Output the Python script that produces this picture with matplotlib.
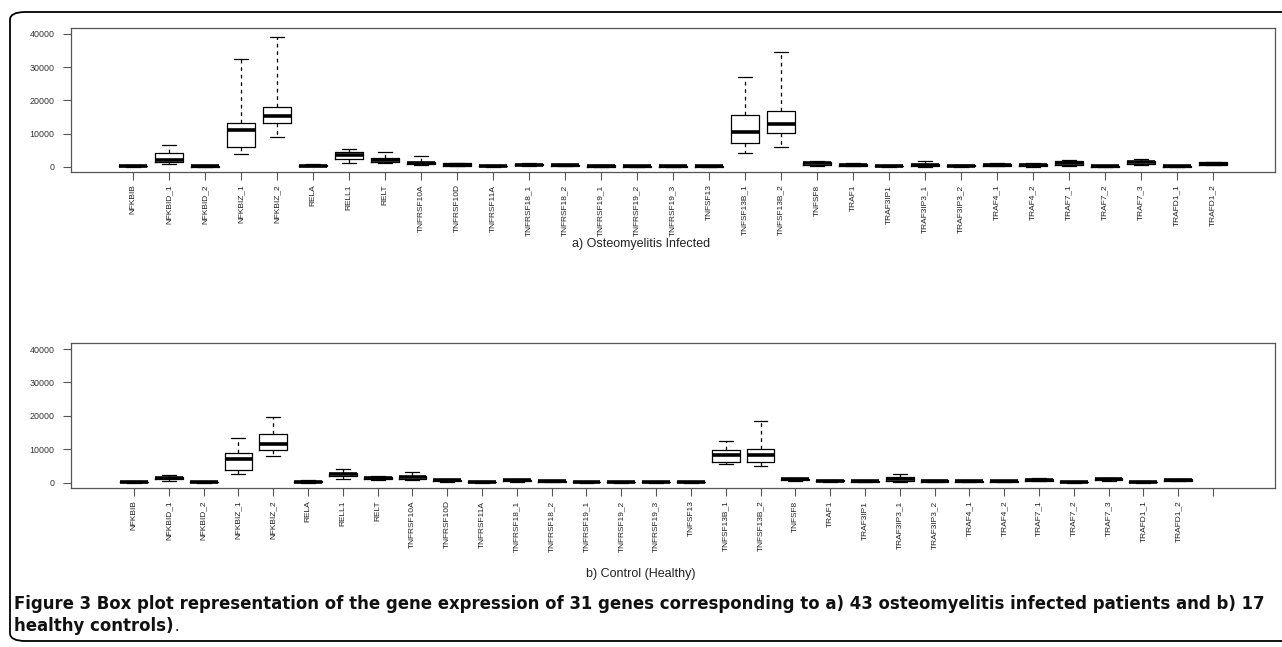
import matplotlib
matplotlib.use('Agg')
import matplotlib.pyplot as plt
from matplotlib.patches import FancyBboxPatch
from matplotlib import font_manager

genes = ["NFKBIB", "NFKBID_1", "NFKBID_2", "NFKBIZ_1", "NFKBIZ_2", "RELA", "RELL1", "RELT",
         "TNFRSF10A", "TNFRSF10D", "TNFRSF11A", "TNFRSF18_1", "TNFRSF18_2", "TNFRSF19_1",
         "TNFRSF19_2", "TNFRSF19_3", "TNFSF13", "TNFSF13B_1", "TNFSF13B_2", "TNFSF8", "TRAF1",
         "TRAF3IP1", "TRAF3IP3_1", "TRAF3IP3_2", "TRAF4_1", "TRAF4_2", "TRAF7_1", "TRAF7_2",
         "TRAF7_3", "TRAFD1_1", "TRAFD1_2"]

# a) Osteomyelitis infected
inf_lo  = [0, 800, 0, 3800, 8900, 100, 1200, 1000, 400, 100, 0, 200, 100, 0, 0, 0, 0,
           4000, 5800, 300, 100, 0, 0, 0, 100, 0, 200, 0, 600, 0, 400]
inf_q1  = [100, 1500, 50, 6000, 13300, 200, 2400, 1400, 700, 300, 100, 400, 250, 50, 50, 50, 50,
           7000, 10200, 600, 300, 100, 200, 100, 250, 150, 600, 50, 900, 30, 600]
inf_med = [200, 2100, 150, 11200, 15200, 350, 3500, 2000, 1000, 600, 200, 600, 400, 200, 150, 150, 150,
           10400, 13000, 1000, 500, 200, 400, 250, 500, 400, 1100, 150, 1300, 100, 900]
inf_q3  = [300, 4100, 250, 13200, 18000, 500, 4300, 2500, 1400, 1000, 300, 900, 650, 400, 300, 300, 300,
           15700, 16900, 1400, 800, 350, 800, 400, 900, 800, 1600, 250, 1700, 200, 1400]
inf_hi  = [500, 6400, 400, 32500, 39200, 800, 5200, 4400, 3200, 1200, 400, 1100, 800, 500, 350, 350, 350,
           26900, 34600, 1700, 1000, 450, 1700, 500, 1100, 1000, 1900, 300, 2300, 250, 1500]

# b) Control (healthy)
ctl_lo  = [0, 500, 0, 2500, 7900, 0, 1200, 800, 800, 300, 0, 300, 200, 0, 0, 0, 0,
           5700, 5000, 600, 300, 200, 300, 200, 200, 100, 400, 0, 600, 0, 500]
ctl_q1  = [100, 1000, 50, 3800, 9900, 150, 2000, 1000, 1200, 500, 100, 500, 300, 50, 50, 50, 50,
           6200, 6100, 800, 400, 300, 600, 300, 300, 200, 600, 50, 800, 100, 600]
ctl_med = [200, 1400, 100, 7000, 11600, 300, 2500, 1300, 1600, 700, 200, 700, 450, 100, 100, 100, 100,
           8400, 8300, 1000, 550, 450, 1200, 500, 450, 350, 800, 100, 1000, 150, 800]
ctl_q3  = [300, 1800, 200, 9000, 14700, 500, 3000, 1600, 2000, 900, 300, 900, 600, 200, 200, 200, 200,
           9700, 10200, 1200, 700, 600, 1800, 700, 600, 500, 1100, 200, 1300, 300, 1000]
ctl_hi  = [400, 2300, 300, 13400, 19600, 700, 4200, 1900, 3300, 1000, 400, 1000, 700, 300, 300, 300, 300,
           12500, 18600, 1400, 800, 700, 2700, 800, 700, 600, 1300, 300, 1500, 400, 1200]

yticks = [0, 10000, 20000, 30000, 40000]
title_a = "a) Osteomyelitis Infected"
title_b = "b) Control (Healthy)"
caption1 = ("Figure 3 Box plot representation of the gene expression of 31 genes corresponding "
            "to a) 43 osteomyelitis infected patients and b) 17")
caption2 = "healthy controls)"
caption_end = "."

W, H = 1282, 647
fig = plt.figure(figsize=(W / 100, H / 100), dpi=100)
fig.patch.set_facecolor('white')

sans = ['Liberation Sans', 'DejaVu Sans']
names = {f.name for f in font_manager.fontManager.ttflist}
narrow = 'Liberation Sans Narrow' if 'Liberation Sans Narrow' in names else None


def fx(px):
    return px / W


def fy(py):
    return 1 - py / H


def make_stats(lo, q1, med, q3, hi):
    return [dict(whislo=a, q1=b, med=c, q3=d, whishi=e, fliers=[])
            for a, b, c, d, e in zip(lo, q1, med, q3, hi)]


def panel(rect, stats, labels, xlim, width):
    ax = fig.add_axes(rect)
    n = len(labels)
    pos = list(range(1, len(stats) + 1))
    ax.bxp(stats, positions=pos, widths=width, capwidths=width * 0.5,
           showfliers=False, patch_artist=False, manage_ticks=False,
           boxprops=dict(color='black', linewidth=0.9),
           medianprops=dict(color='black', linewidth=2.6, solid_capstyle='butt'),
           whiskerprops=dict(color='black', linewidth=0.9, linestyle=(0, (3, 3))),
           capprops=dict(color='black', linewidth=0.9))
    ax.set_xlim(*xlim)
    ax.set_ylim(-1600, 41800)
    ax.set_xticks(list(range(1, n + 1)))
    ax.set_xticklabels(labels, rotation=90, fontsize=6.0, family=sans, color='#222222')
    ax.set_yticks(yticks)
    ax.set_yticklabels([str(v) for v in yticks], fontsize=6.4, family=sans, color='#333333')
    ax.tick_params(axis='both', length=6, width=0.8, color='#555555')
    ax.tick_params(axis='y', pad=6)
    ax.tick_params(axis='x', pad=3)
    for s in ax.spines.values():
        s.set_color('#555555')
        s.set_linewidth(0.9)
    return ax


# top panel
ax1 = panel([fx(71), fy(172), fx(1275) - fx(71), fy(28) - fy(172)],
            make_stats(inf_lo, inf_q1, inf_med, inf_q3, inf_hi), genes,
            (1 - 62 / 36, 31 + 62 / 36), 0.78)

# bottom panel (extra empty slot at the end)
ax2 = panel([fx(71), fy(488), fx(1275) - fx(71), fy(343) - fy(488)],
            make_stats(ctl_lo, ctl_q1, ctl_med, ctl_q3, ctl_hi), genes + [""],
            (1 - 63 / 34.8, 32 + 62 / 34.8), 0.8)

fig.text(0.5, fy(244), title_a, ha='center', va='center', fontsize=9, family=sans, color='#222222')
fig.text(0.5, fy(574), title_b, ha='center', va='center', fontsize=9, family=sans, color='#222222')

# frame
frame = FancyBboxPatch((fx(10), fy(641)), fx(1300) - fx(10), fy(12) - fy(641),
                       boxstyle='round,pad=0,rounding_size=0.012',
                       transform=fig.transFigure, fill=False, edgecolor='black',
                       linewidth=1.3, clip_on=False)
fig.patches.append(frame)

# caption
cap_kw = dict(ha='left', va='baseline', color='#111111')
if narrow:
    cap_kw['family'] = [narrow, 'DejaVu Sans']
else:
    cap_kw['family'] = ['DejaVu Sans']
    cap_kw['fontstretch'] = 'condensed'
t1 = fig.text(fx(14), fy(609), caption1, fontsize=14, fontweight='bold', **cap_kw)
fig.canvas.draw()
r = fig.canvas.get_renderer()
wpx = t1.get_window_extent(r).width
fs = 14 * (1275 - 14) / wpx
t1.set_fontsize(fs)
t2 = fig.text(fx(14), fy(631), caption2, fontsize=fs, fontweight='bold', **cap_kw)
fig.canvas.draw()
x_end = t2.get_window_extent(r).x1
fig.text(x_end / W + 1 / W, fy(631), caption_end, fontsize=fs * 0.85, fontweight='normal', **cap_kw)

fig.savefig('out.png', dpi=100)
